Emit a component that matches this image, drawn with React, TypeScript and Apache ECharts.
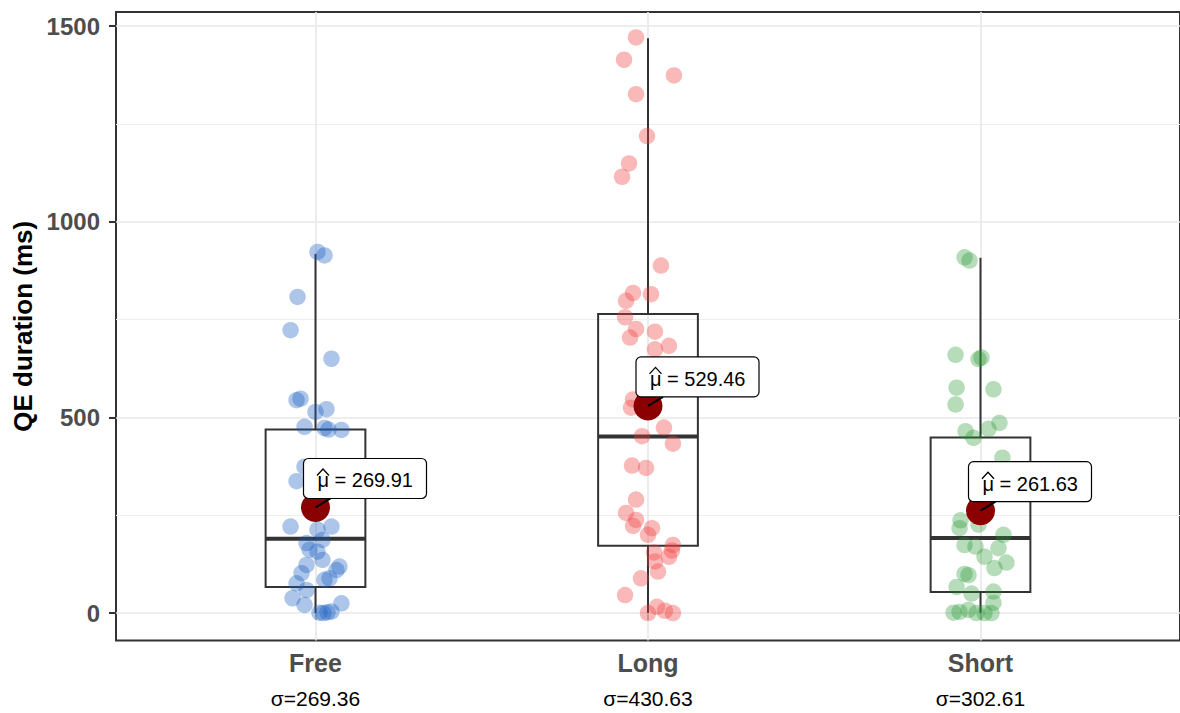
import React, { useEffect, useRef } from "react";
import * as echarts from "echarts";

const categories = ["Free", "Long", "Short"];
const sigmaLabels = ["σ=269.36", "σ=430.63", "σ=302.61"];
const yTicks = [0, 500, 1000, 1500];
const yMinorTicks = [250, 750, 1250];
const means = [269.91, 529.46, 261.63];
const meanLabels = ["μ = 269.91", "μ = 529.46", "μ = 261.63"];

// [low whisker, Q1, median, Q3, high whisker]
const boxFree = [0, 67, 190, 469, 918];
const boxLong = [0, 172, 451, 764, 1469];
const boxShort = [0, 54, 192, 449, 908];

// jitter offsets (category units) and values (ms)
const freeJitter = [0.006, 0.027, -0.054, -0.075, 0.048, -0.057, -0.045, 0, 0.033, -0.033, 0.027, 0.039, 0.078, -0.033, -0.057, -0.075, 0.006, 0.048, -0.027, 0.021, -0.018, 0.006, 0.021, -0.027, 0.072, 0.063, -0.042, 0.042, 0.027, -0.057, -0.027, -0.069, -0.033, 0.078, 0.012, 0.024, 0.036, 0.048];
const freeValues = [923, 914, 808, 723, 650, 544, 548, 514, 521, 476, 473, 469, 468, 374, 337, 221, 213, 221, 179, 187, 162, 157, 136, 123, 119, 110, 102, 89, 85, 76, 59, 38, 21, 25, 1, 0, 2, 4];

const longJitter = [-0.036, -0.072, 0.078, -0.036, -0.003, -0.057, -0.078, 0.039, -0.045, 0.009, -0.066, -0.069, -0.036, -0.054, 0.021, 0.063, 0.021, -0.045, -0.051, 0.048, -0.018, 0.075, -0.048, -0.006, -0.036, -0.066, -0.036, -0.045, 0.012, 0, 0.075, 0.072, 0.018, 0.063, 0.021, 0.03, -0.021, -0.069, 0, 0.027, 0.051, 0.075];
const longValues = [1471, 1414, 1374, 1326, 1219, 1149, 1115, 888, 818, 815, 798, 756, 726, 704, 719, 683, 674, 546, 525, 474, 452, 433, 377, 371, 290, 256, 238, 223, 217, 200, 174, 160, 155, 144, 132, 106, 89, 46, 0, 16, 6, 0];

const shortJitter = [-0.048, -0.033, -0.075, -0.006, 0.003, -0.072, 0.039, -0.075, 0.057, 0.024, -0.045, -0.021, 0.066, 0.063, -0.06, -0.063, -0.006, 0.069, -0.048, -0.015, 0.054, 0.012, 0.078, 0.042, -0.048, -0.036, -0.072, -0.027, 0.039, 0.039, -0.081, -0.063, -0.036, -0.012, 0.012, 0.033];
const shortValues = [909, 901, 660, 649, 653, 576, 572, 533, 486, 471, 465, 448, 397, 308, 237, 217, 226, 200, 174, 170, 166, 144, 129, 115, 100, 97, 67, 50, 55, 26, 1, 3, 8, 0, 0, 0];

const groupColors = ["rgba(25,95,195,0.45)", "rgba(240,60,60,0.45)", "rgba(40,150,50,0.42)"];

const FONT = "'Liberation Sans', Arial, Helvetica, sans-serif";

export default function App() {
  const ref = useRef<HTMLDivElement>(null);

  useEffect(() => {
    if (!ref.current) return;
    const chart = echarts.init(ref.current, undefined, { renderer: "svg" });

    const boxes = [boxFree, boxLong, boxShort];
    const jitters = [freeJitter, longJitter, shortJitter];
    const values = [freeValues, longValues, shortValues];

    const pointSeries = categories.map((c, i) => ({
      name: c,
      type: "scatter",
      z: 3,
      symbolSize: 16.5,
      itemStyle: { color: groupColors[i] },
      data: values[i].map((v, k) => [i + 1 + jitters[i][k], v]),
      silent: true,
    }));

    const option: any = {
      animation: false,
      backgroundColor: "#ffffff",
      textStyle: { fontFamily: FONT },
      grid: {
        left: 116,
        top: 12,
        width: 1069,
        height: 628.5,
        show: true,
        backgroundColor: "#ffffff",
        borderColor: "#333333",
        borderWidth: 2,
        z: 0,
      },
      xAxis: {
        type: "value",
        min: 0.4,
        max: 3.6,
        axisLine: { show: false },
        splitLine: { show: false },
        axisTick: {
          show: true,
          customValues: [1, 2, 3],
          length: 7,
          lineStyle: { color: "#333333", width: 2 },
        },
        axisLabel: {
          customValues: [1, 2, 3],
          margin: 7,
          formatter: (v: number) => {
            const i = Math.round(v) - 1;
            return `{a|${categories[i]}}\n{b|${sigmaLabels[i]}}`;
          },
          rich: {
            a: { fontSize: 25, fontWeight: "bold", color: "#4d4d4d", lineHeight: 30, fontFamily: FONT },
            b: { fontSize: 21, color: "#000000", lineHeight: 41, fontFamily: FONT },
          },
        },
      },
      yAxis: {
        type: "value",
        min: -70,
        max: 1536,
        name: "QE duration (ms)",
        nameLocation: "middle",
        nameGap: 78,
        nameTextStyle: { fontSize: 26, fontWeight: "bold", color: "#000000", fontFamily: FONT },
        axisLine: { show: false },
        splitLine: { show: false },
        axisTick: {
          show: true,
          customValues: yTicks,
          length: 7,
          lineStyle: { color: "#333333", width: 2 },
        },
        axisLabel: {
          customValues: yTicks,
          margin: 16,
          fontSize: 24,
          fontWeight: "bold",
          color: "#4d4d4d",
          fontFamily: FONT,
          formatter: (v: number) => String(Math.round(v)),
        },
      },
      series: [
        {
          type: "scatter",
          data: [],
          silent: true,
          z: 1,
          markLine: {
            silent: true,
            z: 1,
            symbol: "none",
            label: { show: false },
            animation: false,
            data: [
              ...yTicks.map((t) => ({ yAxis: t, lineStyle: { color: "#e8e8e8", width: 1.6, type: "solid" } })),
              ...yMinorTicks.map((t) => ({ yAxis: t, lineStyle: { color: "#eeeeee", width: 1.2, type: "solid" } })),
              ...categories.map((_, i) => ({ xAxis: i + 1, lineStyle: { color: "#e8e8e8", width: 1.6, type: "solid" } })),
            ],
          },
        },
        {
          type: "custom",
          z: 2,
          silent: true,
          data: boxes.map((b, i) => [i + 1, ...b]),
          renderItem: (params: any, api: any) => {
            const x = api.value(0);
            const low = api.coord([x, api.value(1)]);
            const q1 = api.coord([x, api.value(2)]);
            const med = api.coord([x, api.value(3)]);
            const q3 = api.coord([x, api.value(4)]);
            const high = api.coord([x, api.value(5)]);
            const hw = api.size([0.3, 0])[0] / 2;
            const stroke = { stroke: "#333333", lineWidth: 2, fill: "none" };
            return {
              type: "group",
              children: [
                { type: "line", shape: { x1: low[0], y1: low[1], x2: q1[0], y2: q1[1] }, style: stroke },
                { type: "line", shape: { x1: q3[0], y1: q3[1], x2: high[0], y2: high[1] }, style: stroke },
                { type: "rect", shape: { x: q3[0] - hw, y: q3[1], width: hw * 2, height: q1[1] - q3[1] }, style: stroke },
                { type: "line", shape: { x1: med[0] - hw, y1: med[1], x2: med[0] + hw, y2: med[1] }, style: { stroke: "#333333", lineWidth: 4 } },
              ],
            };
          },
        },
        ...pointSeries,
        {
          type: "scatter",
          z: 4,
          silent: true,
          symbolSize: 29,
          itemStyle: { color: "#8b0000", opacity: 1 },
          data: means.map((m, i) => [i + 1, m]),
        },
        {
          type: "custom",
          z: 5,
          silent: true,
          data: means.map((m, i) => [i + 1, m, i]),
          renderItem: (params: any, api: any) => {
            const p = api.coord([api.value(0), api.value(1)]);
            const idx = api.value(2);
            const bx = p[0] - 12;
            const by = p[1] - 49;
            const w = 123;
            const h = 40;
            return {
              type: "group",
              children: [
                { type: "line", shape: { x1: p[0], y1: p[1], x2: p[0] + 15, y2: p[1] - 9 }, style: { stroke: "#000000", lineWidth: 2 } },
                { type: "rect", shape: { x: bx, y: by, width: w, height: h, r: 5 }, style: { fill: "#ffffff", stroke: "#000000", lineWidth: 1.2 } },
                {
                  type: "polyline",
                  shape: { points: [[bx + 13.5, by + 17], [bx + 19.5, by + 10.5], [bx + 25.5, by + 17]] },
                  style: { stroke: "#000000", lineWidth: 1.3, fill: "none" },
                },
                {
                  type: "text",
                  x: bx + 14,
                  y: by + 22,
                  style: {
                    text: meanLabels[idx],
                    fontSize: 20,
                    fontFamily: FONT,
                    fill: "#000000",
                    align: "left",
                    verticalAlign: "middle",
                  },
                },
              ],
            };
          },
        },
      ],
    };

    chart.setOption(option);
    return () => chart.dispose();
  }, []);

  return (
    <div
      ref={ref}
      style={{ position: "fixed", left: 0, top: 0, width: 1180, height: 713, background: "#fff" }}
    />
  );
}
